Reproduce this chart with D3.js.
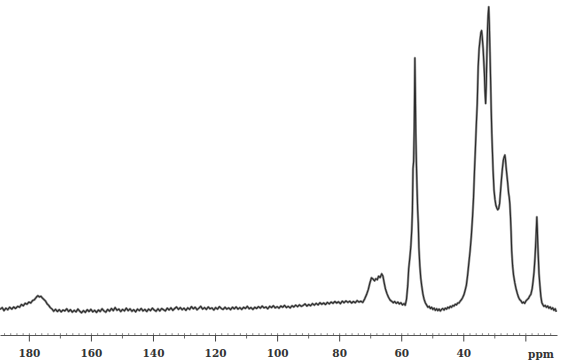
<!DOCTYPE html>
<html>
<head>
<meta charset="utf-8">
<script src="https://cdn.jsdelivr.net/npm/d3@7"></script>
<style>
  html, body { margin: 0; padding: 0; background: #fff; }
  svg { display: block; }
</style>
</head>
<body>
<svg id="chart" width="576" height="362"></svg>
<script>
// Chemical shift (ppm) values
const shifts = [
189.3,188.6,188,187.4,186.8,186.2,185.5,184.9,184.3,183.6,183,182.4,181.8,181.2,180.6,180,179.4,178.8,178.2,177.6,
177.1,176.6,176.1,175.6,175.1,174.6,174.1,173.6,173.1,172.5,172,171.4,170.8,170.2,169.6,169,168.4,167.8,167.2,166.6,
166,165.4,164.8,164.2,163.6,163,162.4,161.8,161.2,160.6,160,159.4,158.8,158.2,157.6,157,156.4,155.8,155.2,154.6,
154,153.4,152.8,152.2,151.6,151,150.4,149.8,149.2,148.6,148,147.4,146.8,146.2,145.6,145,144.4,143.8,143.2,142.6,
142,141.4,140.8,140.2,139.6,139,138.4,137.8,137.2,136.6,136,135.4,134.8,134.2,133.6,133,132.4,131.8,131.2,130.6,
130,129.4,128.8,128.2,127.6,127,126.4,125.8,125.2,124.6,124,123.4,122.8,122.2,121.6,121,120.4,119.8,119.2,118.6,
118,117.4,116.8,116.2,115.6,115,114.4,113.8,113.2,112.6,112,111.4,110.8,110.2,109.6,109,108.4,107.8,107.2,106.6,
106,105.4,104.8,104.2,103.6,103,102.4,101.8,101.2,100.6,100,99.4,98.8,98.2,97.6,97,96.4,95.8,95.2,94.6,
94,93.4,92.8,92.2,91.6,91,90.4,89.8,89.2,88.6,88,87.4,86.8,86.2,85.6,85,84.4,83.8,83.2,82.6,
82,81.4,80.8,80.2,79.6,79,78.4,77.8,77.2,76.6,76,75.4,74.8,74.2,73.6,73,72.4,71.8,71.2,70.6,
70.1,69.6,69.1,68.6,68.2,67.7,67.3,66.8,66.3,65.9,65.5,65.1,64.6,64.1,63.6,63.1,62.6,62.1,61.6,61.1,
60.6,60.1,59.6,59.1,58.7,58.3,57.9,57.6,57.2,56.9,56.6,56.4,56.2,56.0,55.8,55.6,55.45,55.3,55.1,54.9,
54.7,54.5,54.3,54.0,53.7,53.4,53.0,52.6,52.2,51.8,51.4,51.0,50.6,50.2,49.8,49.4,49.0,48.6,48.2,47.8,
47.4,47.0,46.6,46.2,45.8,45.4,45.0,44.6,44.2,43.8,43.4,43.0,42.6,42.2,41.8,41.4,41.0,40.6,40.2,39.8,
39.4,39.0,38.6,38.2,37.8,37.4,37.0,36.7,36.4,36.1,35.8,35.5,35.2,34.9,34.6,34.3,34.1,33.9,33.6,33.4,
33.2,33.0,32.8,32.6,32.4,32.2,32.0,31.8,31.6,31.4,31.2,31.0,30.8,30.6,30.4,30.1,29.8,29.5,29.2,28.9,
28.6,28.3,28.0,27.7,27.4,27.1,26.8,26.6,26.4,26.2,26.0,25.7,25.4,25.2,25.0,24.8,24.6,24.4,24.1,23.8,
23.4,23.0,22.6,22.2,21.8,21.4,21.0,20.6,20.2,19.8,19.4,19.0,18.6,18.2,17.8,17.5,17.2,16.9,16.6,16.4,
16.3,16.15,16.0,15.8,15.6,15.3,15.0,14.7,14.4,14.0,13.6,13.2,12.8,12.4,12.0,11.6,11.2,10.8,10.4,10.0
];
// Signal intensity (arbitrary units)
const intensity = [
0.2,0.8,-0.2,0.6,0.1,0.9,0.3,1.0,0.5,1.2,0.9,1.8,1.4,2.2,1.9,2.6,2.3,3.1,3.4,4.2,
4.7,4.3,4.5,3.9,3.4,2.9,2.0,1.5,0.8,0.3,-0.4,0.2,-0.5,0.1,-0.6,0,-0.3,0.4,-0.5,0.1,
-0.7,-0.1,-0.6,0.3,-0.4,-0.9,-0.2,-0.8,0.1,-0.5,0.2,-0.6,-0.1,-0.8,0,-0.5,0.4,-0.3,-0.7,0.2,
-0.4,0.5,-0.2,0.8,-0.1,0.3,-0.5,0.2,-0.3,0.6,-0.2,0.4,-0.4,0.1,-0.6,0.3,-0.2,0.5,-0.3,0.2,
-0.5,0.3,-0.2,0.6,0,-0.4,0.4,-0.3,0.5,0.1,-0.3,0.6,0,0.7,-0.1,0.5,1.0,0.2,0.8,0.1,
0.6,-0.1,0.7,0.2,1.1,0.4,0.9,0.1,0.6,1.2,0.3,0.8,0.2,1.0,0.4,0.7,0,0.8,0.3,1.1,
0.5,0.2,0.9,0.3,0.7,0.1,0.9,0.4,1.0,0.3,0.8,0.2,0.9,0.5,1.2,0.4,0.8,0.2,0.9,0.5,
1.1,0.6,1.3,0.7,1.0,0.4,1.2,0.8,1.4,0.7,1.1,0.6,1.3,0.9,1.5,0.8,1.2,0.7,1.4,1.0,
1.6,1.1,1.7,1.2,1.5,2.0,1.3,1.8,1.4,2.1,1.6,2.2,1.7,2.4,1.9,2.3,1.8,2.5,2.0,2.6,
2.2,2.8,2.3,2.7,2.1,2.9,2.4,3.0,2.5,2.9,2.3,2.8,2.4,3.1,2.6,2.9,2.5,3.6,5.0,6.8,
8.9,10.6,10.2,9.6,10.3,10.0,11.1,10.7,11.9,11.2,9.0,7.0,5.4,4.2,3.3,2.9,2.4,2.8,2.2,2.6,
2.0,2.4,1.7,2.1,1.6,3.5,8.0,13.5,17.5,21.0,26.5,32.5,46.5,49.0,60.0,83.0,72.0,58.0,48.0,40.0,
33.0,28.5,20.5,14.5,10.5,8.0,5.2,3.4,2.3,1.6,0.9,1.2,0.5,0.9,0.2,0.6,-0.1,0.4,-0.2,0.3,
-0.3,0.2,0.5,0.0,0.6,0.3,0.9,0.6,1.2,0.9,1.5,1.3,1.9,1.7,2.3,2.3,2.9,3.4,4.1,5.0,
6.5,8.2,11.5,15.5,19.5,24.5,31.0,37.0,45.5,53.0,61.0,68.0,80.0,86.0,89.0,91.5,92.0,90.0,86.0,82.0,
78.0,72.0,68.0,74.0,84.0,92.0,97.0,99.8,94.0,85.0,76.0,66.0,58.0,52.0,46.0,39.5,36.5,34.5,33.6,33.0,
33.4,35.0,39.0,43.0,46.5,49.3,50.5,51.0,49.5,47.0,45.0,42.0,38.5,37.2,35.0,31.0,26.0,19.5,14.5,11.5,
9.0,7.0,5.5,4.2,3.4,3.0,2.3,2.6,2.2,3.0,3.4,3.8,4.6,5.2,7.0,9.5,12.5,17.0,23.0,28.0,
30.6,27.0,22.0,17.0,12.0,8.0,4.5,2.5,1.8,1.2,1.5,0.9,1.3,0.6,1.0,0.3,0.7,-0.1,0.4,-0.6
];
// Axis ticks: labelled major ticks, an unlabelled 20 ppm tick, minor ticks
const majorTicks = [180, 160, 140, 120, 100, 80, 60, 40];
const unlabelledTicks = [20];
const minorTicks = [170, 150, 130, 110, 90, 70, 50, 30];
const axisUnit = "ppm";

const data = shifts.map((s, i) => ({ ppm: s, v: intensity[i] }));

const svg = d3.select("#chart");
const axisY = 335;

const x = d3.scaleLinear().domain([189.3, 9.8]).range([0, 557]);
const y = d3.scaleLinear().domain([0, 100]).range([310, 6.3]);

// spectrum trace (soft halo + dark core, like a scanned trace)
const line = d3.line().x(d => x(d.ppm)).y(d => y(d.v));
svg.append("path")
  .datum(data)
  .attr("d", line)
  .attr("fill", "none")
  .attr("stroke", "#9a9a9a")
  .attr("stroke-width", 2.4)
  .attr("stroke-linejoin", "round");
svg.append("path")
  .datum(data)
  .attr("d", line)
  .attr("fill", "none")
  .attr("stroke", "#2a2a2a")
  .attr("stroke-width", 1.1)
  .attr("stroke-linejoin", "round");

// tiny dotted ticks above axis line
const tinyTicks = d3.range(188, 10, -2);
svg.append("g")
  .attr("transform", `translate(0,${axisY})`)
  .call(d3.axisTop(x).tickValues(tinyTicks).tickSize(1.8).tickFormat(""))
  .call(g => g.select(".domain").remove())
  .call(g => g.selectAll("line").attr("stroke", "#888"));

// minor ticks
svg.append("g")
  .attr("transform", `translate(0,${axisY})`)
  .call(d3.axisBottom(x).tickValues(minorTicks).tickSize(3.5).tickFormat(""))
  .call(g => g.select(".domain").remove())
  .call(g => g.selectAll("line").attr("stroke", "#666"));

// unlabelled major tick at 20 ppm (its place is taken by the unit label)
svg.append("g")
  .attr("transform", `translate(0,${axisY})`)
  .call(d3.axisBottom(x).tickValues(unlabelledTicks).tickSize(6.5).tickFormat(""))
  .call(g => g.select(".domain").remove())
  .call(g => g.selectAll("line").attr("stroke", "#444"));

// major ticks with labels
svg.append("g")
  .attr("transform", `translate(0,${axisY})`)
  .call(d3.axisBottom(x).tickValues(majorTicks).tickSize(6.5).tickSizeOuter(0).tickPadding(8))
  .call(g => g.select(".domain").attr("stroke", "#555").attr("stroke-width", 1))
  .call(g => g.selectAll(".tick line").attr("stroke", "#444"))
  .call(g => g.selectAll(".tick text")
    .attr("fill", "#333")
    .attr("font-family", "DejaVu Serif")
    .attr("font-weight", "bold")
    .attr("font-size", "10.5px"));

svg.append("text")
  .attr("x", 541)
  .attr("y", 357.5)
  .attr("text-anchor", "middle")
  .attr("fill", "#333")
  .attr("font-family", "DejaVu Serif")
  .attr("font-weight", "bold")
  .attr("font-size", "10.5px")
  .text(axisUnit);
</script>
</body>
</html>
